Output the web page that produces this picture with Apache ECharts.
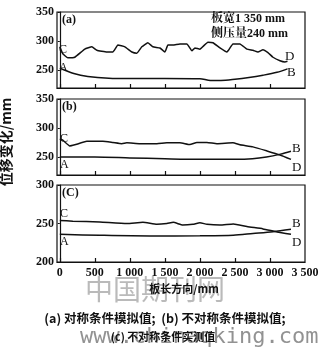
<!DOCTYPE html>
<html>
<head>
<meta charset="utf-8">
<script src="https://cdn.jsdelivr.net/npm/echarts@6/dist/echarts.min.js"></script>
<style>
  html, body { margin: 0; padding: 0; background: #fff; }
  #chart { width: 326px; height: 349px; }
</style>
</head>
<body>
<div id="chart"></div>
<script>
// Position along the plate length (mm)
const xTicks = [0, 500, 1000, 1500, 2000, 2500, 3000, 3500];

// (a) symmetric condition, simulated
const aEdgeX = [0, 43, 114, 214, 357, 457, 529, 671, 757, 829, 929, 1029, 1100, 1171, 1257, 1329, 1429, 1500, 1543, 1614, 1714, 1814, 1886, 1929, 2000, 2114, 2186, 2286, 2386, 2471, 2571, 2671, 2757, 2829, 2900, 2971, 3043, 3143, 3214, 3250];
const aEdgeY = [290, 278, 271, 272, 286, 290, 284, 281, 281, 293, 290, 281, 279, 290, 297, 290, 288, 281, 293, 293, 295, 295, 283, 288, 286, 298, 297, 288, 281, 295, 295, 286, 284, 281, 285, 280, 272, 266, 264, 265];
const aCenterX = [0, 200, 400, 700, 1000, 1500, 2000, 2150, 2300, 2500, 2700, 2900, 3100, 3250];
const aCenterY = [253, 244, 239, 236, 235.5, 235.5, 235, 232, 232, 234, 237, 241, 246, 252];

// (b) asymmetric condition, simulated
const bEdgeX = [0, 43, 143, 214, 386, 614, 757, 886, 957, 1143, 1386, 1529, 1714, 1857, 1957, 2100, 2243, 2471, 2571, 2757, 2957, 3143, 3300];
const bEdgeY = [281, 279, 269, 271, 277, 277, 275, 273, 274.5, 273, 273, 274.5, 274.5, 271.5, 275, 275, 273, 274.5, 271, 267.5, 260.5, 253.5, 246];
const bCenterX = [0, 500, 1000, 1500, 2000, 2500, 2750, 2950, 3150, 3300];
const bCenterY = [250, 250, 248.5, 247, 246, 246, 247, 250, 255, 260];

// (c) asymmetric condition, measured
const cEdgeX = [0, 186, 571, 957, 1186, 1386, 1529, 1619, 1757, 1900, 2000, 2100, 2286, 2476, 2671, 2900, 3100, 3300];
const cEdgeY = [254, 253, 252, 250, 251.5, 249, 250, 251.5, 248, 249, 251, 249, 248, 249.5, 246, 243, 239, 236];
const cCenterX = [0, 571, 1286, 2000, 2476, 2757, 3043, 3300];
const cCenterY = [236, 234.7, 233.8, 234, 234.7, 237, 239.4, 242.5];

const yTicksAB = [250, 300, 350];
const yTicksC = [200, 250, 300];

const serif = '"Liberation Serif", "Noto Serif CJK SC", "Noto Sans CJK SC", serif';
const cjk = '"Noto Sans CJK SC", sans-serif';
const ink = '#111';

function pairs(xs, ys) { return xs.map((x, i) => [x, ys[i]]); }
function fmtThousands(v) {
  return v >= 1000 ? Math.floor(v / 1000) + ' ' + String(v % 1000).padStart(3, '0') : String(v);
}

const grids = [
  { left: 57, top: 12, width: 248, height: 76 },
  { left: 57, top: 99, width: 248, height: 76 },
  { left: 57, top: 185, width: 248, height: 77 }
].map(g => Object.assign({ show: true, borderColor: ink, borderWidth: 1.2, backgroundColor: 'transparent' }, g));

function xAxis(i, showLabels) {
  return {
    type: 'value', gridIndex: i, min: -40, max: 3500,
    splitLine: { show: false },
    axisLine: { show: true, lineStyle: { color: ink, width: 1.2 } },
    axisTick: { show: true, inside: true, length: 4, customValues: xTicks.slice(0, 7), lineStyle: { color: ink, width: 1.2 } },
    axisLabel: {
      show: showLabels, customValues: xTicks, formatter: fmtThousands,
      color: ink, fontFamily: serif, fontSize: 12, fontWeight: 'bold', margin: 5
    }
  };
}
function yAxis(i, min, max, ticks) {
  return {
    type: 'value', gridIndex: i, min: min, max: max,
    splitLine: { show: false },
    axisLine: { show: true, lineStyle: { color: ink, width: 1.2 } },
    axisTick: { show: true, length: 2, customValues: ticks, lineStyle: { color: ink, width: 1 } },
    axisLabel: { customValues: ticks, color: ink, fontFamily: serif, fontSize: 12, fontWeight: 'bold', margin: 3 }
  };
}
function line(i, xs, ys, smooth) {
  return {
    type: 'line', xAxisIndex: i, yAxisIndex: i, data: pairs(xs, ys),
    showSymbol: false, smooth: smooth, lineStyle: { color: ink, width: 1.5 }, silent: true
  };
}
function txt(left, top, text, size, family, extra) {
  return { type: 'text', left: left, top: top, silent: true,
    style: Object.assign({ text: text, fill: ink, font: (extra && extra.weight ? extra.weight : 'normal') + ' ' + size + 'px ' + family }, extra && extra.style) };
}

const chart = echarts.init(document.getElementById('chart'), null, { renderer: 'canvas' });
chart.setOption({
  animation: false,
  backgroundColor: '#fff',
  grid: grids,
  xAxis: [xAxis(0, false), xAxis(1, false), xAxis(2, true)],
  yAxis: [yAxis(0, 219, 350, yTicksAB), yAxis(1, 219, 350, yTicksAB), yAxis(2, 200, 300, yTicksC)],
  series: [
    line(0, aEdgeX, aEdgeY, 0.1), line(0, aCenterX, aCenterY, 0.3),
    line(1, bEdgeX, bEdgeY, 0.15), line(1, bCenterX, bCenterY, 0.3),
    line(2, cEdgeX, cEdgeY, 0.15), line(2, cCenterX, cCenterY, 0.3)
  ],
  graphic: [
    // panel tags and plate info
    txt(62, 14, '(a)', 12, serif, { weight: 'bold' }),
    txt(62, 101, '(b)', 12, serif, { weight: 'bold' }),
    txt(62, 187, '(C)', 12, serif, { weight: 'bold' }),
    txt(211, 13, '板宽1 350 mm', 12, serif, { weight: 'bold' }),
    txt(211, 28, '侧压量240 mm', 12, serif, { weight: 'bold' }),
    // curve end letters
    txt(59, 44, 'C', 12, serif), txt(59, 62, 'A', 12, serif),
    txt(285, 50, 'D', 13, serif), txt(287, 66, 'B', 13, serif),
    txt(60, 133, 'C', 12, serif), txt(60, 159, 'A', 12, serif),
    txt(292, 142, 'B', 13, serif), txt(292, 161, 'D', 13, serif),
    txt(60, 208, 'C', 12, serif), txt(60, 236, 'A', 12, serif),
    txt(292, 217, 'B', 13, serif), txt(292, 236, 'D', 13, serif),
    // axis titles
    { type: 'text', x: 6, y: 142, rotation: Math.PI / 2, silent: true,
      style: { text: '位移变化/mm', fill: ink, font: 'bold 14px ' + cjk, align: 'center', verticalAlign: 'middle' } },
    // site watermark
    { type: 'text', x: 155, y: 289, silent: true, z: 5,
      style: { text: '中国期刊网', fill: 'rgba(140,140,140,0.6)', font: '28px ' + cjk, align: 'center', verticalAlign: 'middle', letterSpacing: 2 } },
    { type: 'text', x: 184, y: 289, silent: true, z: 6,
      style: { text: '板长方向/mm', fill: ink, font: 'bold 11px ' + cjk, align: 'center', verticalAlign: 'middle' } },
    // caption
    { type: 'text', x: 165, y: 318, silent: true,
      style: { text: '(a) 对称条件模拟值;  (b) 不对称条件模拟值;', fill: ink, font: 'bold 12.5px ' + cjk, align: 'center', verticalAlign: 'middle' } },
    { type: 'text', x: 80, y: 337, silent: true, z: 5,
      style: { text: 'www.chinaqking.com', fill: 'rgba(110,110,110,0.75)', font: '22px "DejaVu Sans Mono", monospace', align: 'left', verticalAlign: 'middle' } },
    { type: 'text', x: 163, y: 337, silent: true, z: 6,
      style: { text: '(c) 不对称条件实测值', fill: ink, font: 'bold 11px ' + cjk, align: 'center', verticalAlign: 'middle' } }
  ]
});
</script>
</body>
</html>
